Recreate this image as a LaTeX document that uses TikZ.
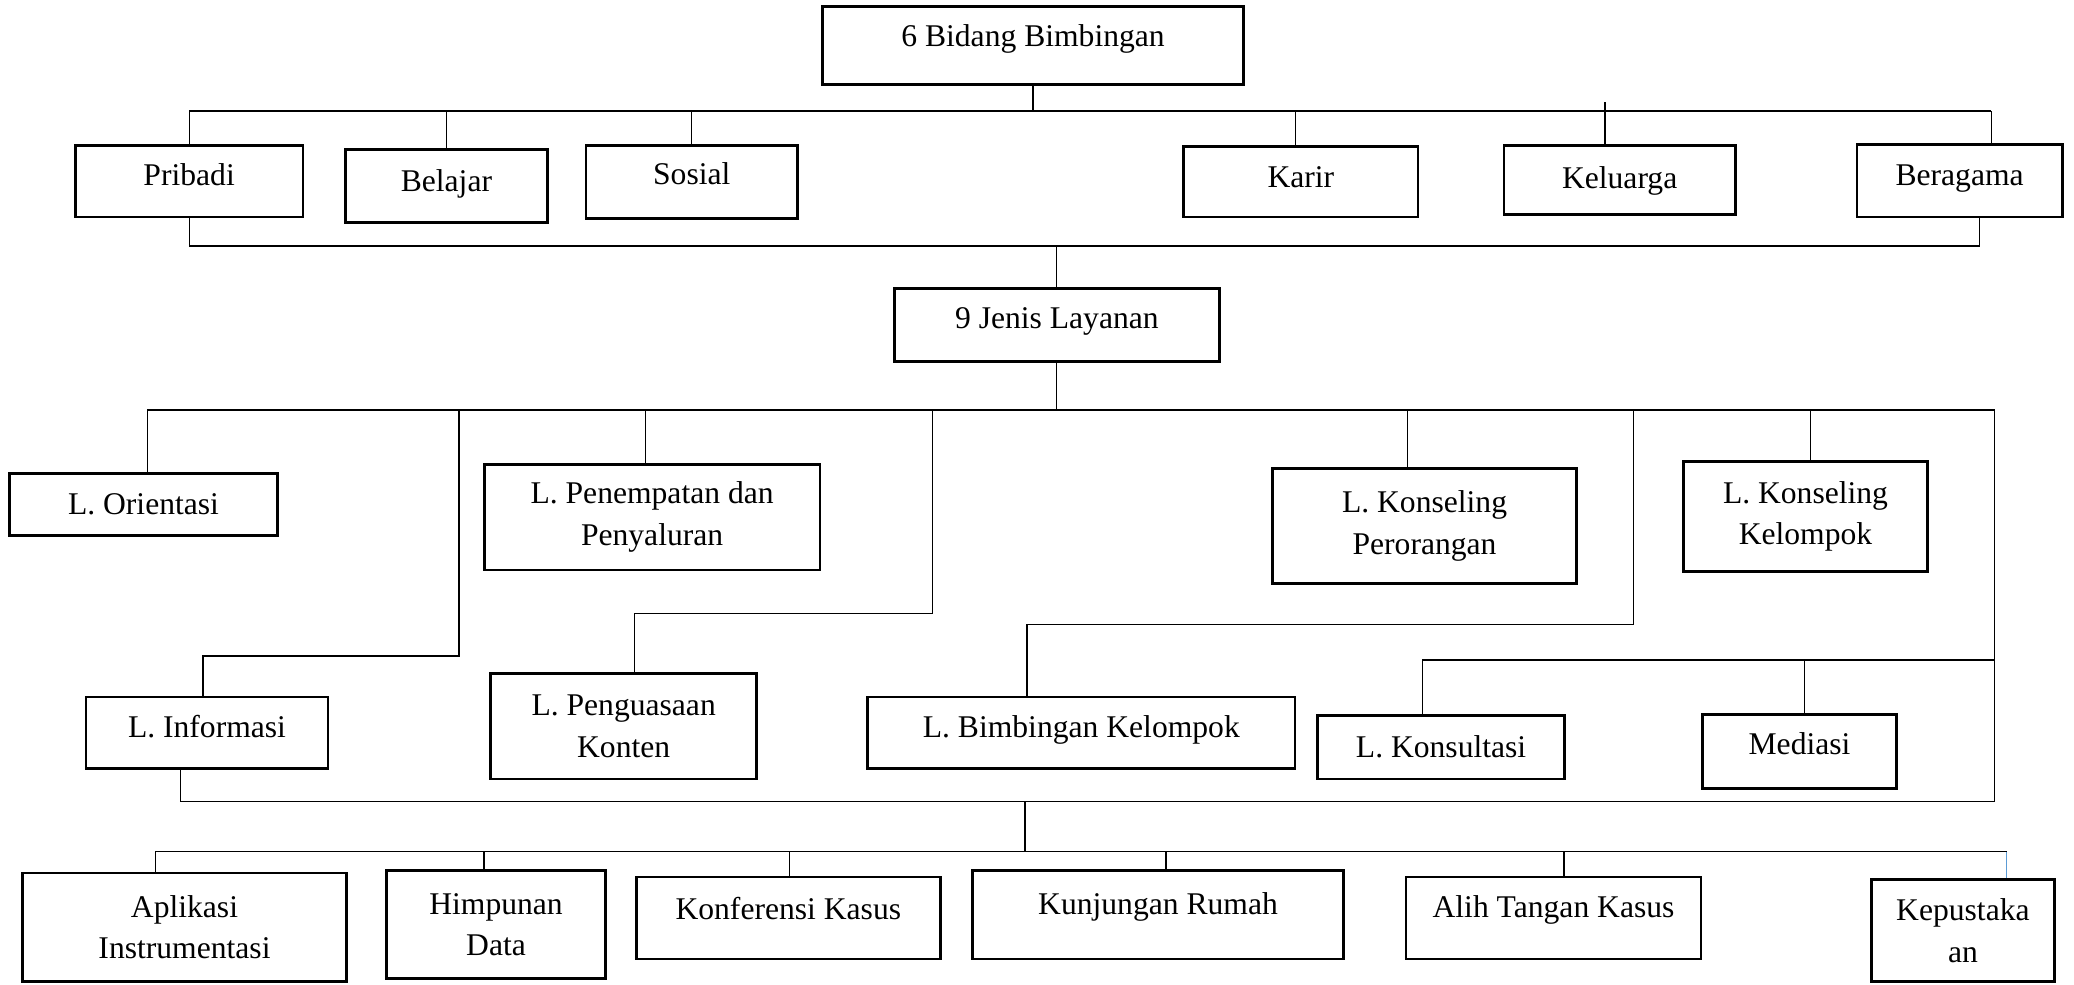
\documentclass[tikz,border=0pt]{standalone}
\usepackage{fontspec}
\setmainfont{Liberation Serif}
\definecolor{paleblue}{RGB}{91,155,213}

\begin{document}
\begin{tikzpicture}[x=0.02cm,y=-0.02cm,
        font=\fontsize{13.6}{17.9}\selectfont,
        box/.style 2 args={draw,line width=1.2pt,minimum width=#1*0.02cm,minimum height=#2*0.02cm},
        single/.style={text height=0.34cm,text depth=#1},
        single/.default=0.2cm,
        wire/.style={line width=0.55pt}]
        \useasboundingbox (0,0) rectangle (1568,744);

        \node[box={318}{59},single=0.3cm] (bidang) at (781,34.5) {6 Bidang Bimbingan};

        \node[box={172}{54},single] (pribadi) at (143,137) {Pribadi};
        \node[box={153}{55},single=0.18cm] (belajar) at (337.5,140.5) {Belajar};
        \node[box={160}{55},single=0.26cm] (sosial) at (523,137.5) {Sosial};
        \node[box={177}{53},single=0.18cm] (karir) at (983.5,137.5) {Karir};
        \node[box={175}{52},single=0.08cm] (keluarga) at (1224.5,136) {Keluarga};
        \node[box={155}{55},single=0.18cm] (beragama) at (1481.5,136.5) {Beragama};

        \node[box={246}{55},single=0.22cm] (jenis) at (799,245.5) {9 Jenis Layanan};

        \node[box={203}{47},single=0.04cm] (orientasi) at (108.5,381.5) {L. Orientasi};
        \node[box={254}{80},align=center] (penempatan) at (493,391) {L. Penempatan dan\\Penyaluran};
        \node[box={230}{87},align=center] (perorangan) at (1077,397.5) {L. Konseling\\Perorangan};
        \node[box={184}{83},align=center] (kkelompok) at (1365,390.5) {L. Konseling\\Kelompok};
        \node[box={183}{54},single] (informasi) at (156.5,554) {L. Informasi};
        \node[box={201}{80},align=center] (penguasaan) at (471.5,549) {L. Penguasaan\\Konten};
        \node[box={323}{54},single] (bkelompok) at (817.5,554) {L. Bimbingan Kelompok};
        \node[box={187}{48},single=0.04cm] (konsultasi) at (1089.5,565) {L. Konsultasi};
        \node[box={147}{56},single=0.24cm] (mediasi) at (1360.5,568) {Mediasi};

        \node[box={245}{82},align=center] (aplikasi) at (139.5,701) {Aplikasi\\Instrumentasi};
        \node[box={166}{82},align=center] (himpunan) at (375,699) {Himpunan\\Data};
        \node[box={230}{62},single=0.28cm] (konferensi) at (596,694) {Konferensi Kasus};
        \node[box={280}{67},single=0.34cm] (kunjungan) at (875.5,691.5) {Kunjungan Rumah};
        \node[box={223}{62},single=0.34cm] (alih) at (1174.5,694) {Alih Tangan Kasus};
        \node[box={138}{77},align=center] (kepustakaan) at (1484,703.5) {Kepustaka\\an};

        \coordinate (busA) at (0,84);
        \coordinate (busB) at (0,186);
        \coordinate (busC) at (0,310);
        \coordinate (busD) at (0,606);
        \coordinate (busE) at (0,644);

        \draw[wire] (bidang.south) -- (bidang.south |- busA);
        \draw[wire] (beragama.north) ++(24,0) coordinate (beragamaUp) -- (beragamaUp |- busA);
        \draw[wire] (pribadi.north) -- (pribadi.north |- busA) -- (beragamaUp |- busA);
        \draw[wire] (belajar.north) -- (belajar.north |- busA);
        \draw[wire] (sosial.north) -- (sosial.north |- busA);
        \draw[wire] (karir.north) ++(-4,0) coordinate (karirUp) -- (karirUp |- busA);
        \draw[wire] (keluarga.north) ++(-11,0) coordinate (keluargaUp) -- (keluargaUp |- busA) -- ++(0,-7);

        \draw[wire] (beragama.south) ++(15,0) coordinate (beragamaDown) -- (beragamaDown |- busB) -- (pribadi.south |- busB) -- (pribadi.south);
        \draw[wire] (jenis.north) -- (jenis.north |- busB);

        \coordinate (rightC) at (1508,310);
        \coordinate (turnI) at (347,496);
        \coordinate (turnP) at (705,464);
        \coordinate (turnB) at (1235,472);
        \coordinate (turnK) at (1508,499);
        \coordinate (midDE) at (775,606);

        \draw[wire] (jenis.south) -- (jenis.south |- busC);
        \draw[wire] (orientasi.north) ++(3,0) coordinate (orientasiUp) -- (orientasiUp |- busC) -- (rightC) -- (rightC |- busD);
        \draw[wire] (penempatan.north) ++(-5,0) coordinate (penempatanUp) -- (penempatanUp |- busC);
        \draw[wire] (perorangan.north) ++(-13,0) coordinate (peroranganUp) -- (peroranganUp |- busC);
        \draw[wire] (kkelompok.north) ++(4,0) coordinate (kkelompokUp) -- (kkelompokUp |- busC);
        \draw[wire] (informasi.north) ++(-3,0) |- (turnI) -- (turnI |- busC);
        \draw[wire] (penguasaan.north) ++(8,0) |- (turnP) -- (turnP |- busC);
        \draw[wire] (bkelompok.north) ++(-41,0) |- (turnB) -- (turnB |- busC);
        \draw[wire] (konsultasi.north) ++(-14,0) |- (turnK);
        \draw[wire] (mediasi.north) ++(4,0) coordinate (mediasiUp) -- (mediasiUp |- turnK);

        \draw[wire] (informasi.south) ++(-20,0) |- (rightC |- busD);
        \draw[wire] (midDE) -- (midDE |- busE);

        \draw[wire,paleblue] (kepustakaan.north) ++(33,0) coordinate (kepustakaanUp) -- (kepustakaanUp |- busE);
        \draw[wire] (aplikasi.north) ++(-22,0) coordinate (aplikasiUp) -- (aplikasiUp |- busE) -- (kepustakaanUp |- busE);
        \draw[wire] (himpunan.north) ++(-9,0) coordinate (himpunanUp) -- (himpunanUp |- busE);
        \draw[wire] (konferensi.north) ++(1,0) coordinate (konferensiUp) -- (konferensiUp |- busE);
        \draw[wire] (kunjungan.north) ++(6,0) coordinate (kunjunganUp) -- (kunjunganUp |- busE);
        \draw[wire] (alih.north) ++(8,0) coordinate (alihUp) -- (alihUp |- busE);

    \end{tikzpicture}
\end{document}
